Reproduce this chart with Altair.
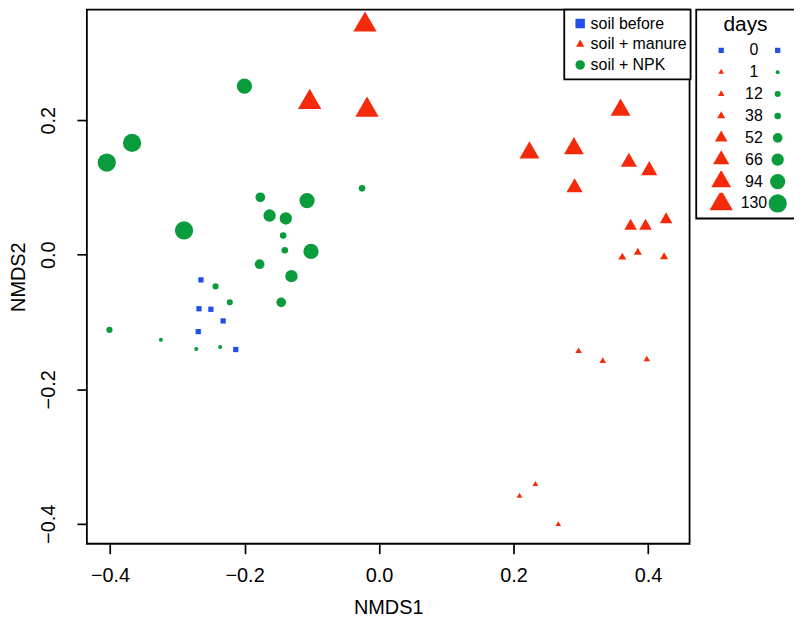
import altair as alt
import pandas as pd

# ---------------- data ----------------
days_levels = [0, 1, 12, 38, 52, 66, 94, 130]
treatments = ["soil before", "soil + manure", "soil + NPK"]

before_x = [-0.2649, -0.2678, -0.2501, -0.2319, -0.2689, -0.2131]
before_y = [-0.0373, -0.0802, -0.0810, -0.0983, -0.1142, -0.1408]
before_days = [0, 0, 0, 0, 0, 0]

manure_x = [-0.0209, -0.1032, -0.0179,
            0.3591, 0.2236, 0.2897,
            0.3715, 0.4017, 0.2907,
            0.3740, 0.3962, 0.4268,
            0.3617, 0.3848, 0.4238,
            0.2967, 0.3326, 0.3981,
            0.2325, 0.2088, 0.2665]
manure_y = [0.3419, 0.2269, 0.2153,
            0.2153, 0.1516, 0.1581,
            0.1380, 0.1254, 0.0998,
            0.0426, 0.0426, 0.0524,
            -0.0037, 0.0035, -0.0031,
            -0.1433, -0.1579, -0.1556,
            -0.3413, -0.3586, -0.4009]
manure_days = [130, 130, 130, 94, 94, 94, 66, 66, 66, 52, 52, 52,
               38, 38, 38, 12, 12, 12, 1, 1, 1]

npk_x = [-0.2900, -0.3673, -0.4049,
         -0.1071, -0.1012, -0.2002,
         -0.1628, -0.1387, -0.1303,
         -0.1766, -0.1776, -0.1455,
         -0.1426, -0.1402, -0.0253,
         -0.2431, -0.2220, -0.4009,
         -0.3245, -0.2718, -0.2363]
npk_y = [0.0362, 0.1664, 0.1372,
         0.0806, 0.0052, 0.2507,
         0.0584, 0.0540, -0.0318,
         0.0855, -0.0140, -0.0707,
         0.0288, 0.0067, 0.0988,
         -0.0470, -0.0707, -0.1117,
         -0.1264, -0.1402, -0.1372]
npk_days = [130, 130, 130, 94, 94, 94, 66, 66, 66, 52, 52, 52,
            38, 38, 38, 12, 12, 12, 1, 1, 1]

x_ticks = [-0.4, -0.2, 0.0, 0.2, 0.4]
y_ticks = [-0.4, -0.2, 0.0, 0.2]

# ---------------- tables ----------------
df_before = pd.DataFrame({"NMDS1": before_x, "NMDS2": before_y, "days": before_days,
                          "treatment": treatments[0]})
df_manure = pd.DataFrame({"NMDS1": manure_x, "NMDS2": manure_y, "days": manure_days,
                          "treatment": treatments[1]})
df_npk = pd.DataFrame({"NMDS1": npk_x, "NMDS2": npk_y, "days": npk_days,
                       "treatment": treatments[2]})
df_tri = pd.concat([df_before, df_manure], ignore_index=True)
df_all = pd.concat([df_before, df_manure, df_npk], ignore_index=True)

# ---------------- styling ----------------
FONT = "Liberation Sans"
BLUE, RED, GREEN = "#2050e8", "#f52a0a", "#0a9c3c"
TRI = "M0,-1L0.866,0.5L-0.866,0.5Z"   # triangle centred on its centroid

x_scale = alt.Scale(domain=[-0.4345, 0.4617], nice=False, zero=False)
y_scale = alt.Scale(domain=[-0.4296, 0.3645], nice=False, zero=False)

x_axis = alt.Axis(values=x_ticks, format=".1f", title="NMDS1", grid=False, domain=False,
                  tickSize=10, tickWidth=1.7, tickColor="black",
                  labelFont=FONT, labelFontSize=20, labelColor="black", labelPadding=12,
                  labelFlush=False, labelOverlap=False,
                  titleFont=FONT, titleFontSize=20, titleFontWeight="normal", titleColor="black",
                  titleX=303, titleY=70.3, titleAlign="center", titleBaseline="alphabetic")
y_axis = alt.Axis(values=y_ticks, format=".1f", title="NMDS2", grid=False, domain=False,
                  tickSize=10, tickWidth=1.7, tickColor="black",
                  labelFont=FONT, labelFontSize=20, labelColor="black",
                  labelAngle=270, labelAlign="center", labelBaseline="alphabetic",
                  labelPadding=22.3, labelFlush=False, labelOverlap=False,
                  titleFont=FONT, titleFontSize=20, titleFontWeight="normal", titleColor="black",
                  titleAngle=270, titleX=-62.8, titleY=268.5, titleAlign="center",
                  titleBaseline="alphabetic")

X = alt.X("NMDS1:Q", scale=x_scale, axis=x_axis)
Y = alt.Y("NMDS2:Q", scale=y_scale, axis=y_axis)

NB = "\u00a0"
ZW = "\u200b"
days_title = ZW + NB * 4 + "days" + NB * 4 + ZW
leg_common = dict(orient="none", padding=4,
                  labelFont=FONT, labelFontSize=16, labelColor="black",
                  clipHeight=21.7, rowPadding=0, symbolStrokeWidth=0, symbolOpacity=1)
leg_tri = alt.Legend(legendX=612.7, legendY=0, title=days_title,
                     titleFont=FONT, titleFontSize=21, titleFontWeight="normal", titleColor="black",
                     titleAnchor="start", titleAlign="left", titlePadding=5,
                     symbolOffset=7.1, labelAlign="center", labelOffset=18.9,
                     strokeColor="black", fillColor="white", **leg_common)
leg_circ = alt.Legend(legendX=681.1, legendY=26, title=None, labelExpr="''", **leg_common)
leg_treat = alt.Legend(orient="none", legendX=480, legendY=0, title=None, padding=4,
                       strokeColor="black", fillColor="white",
                       labelFont=FONT, labelFontSize=16, labelColor="black",
                       clipHeight=20, rowPadding=0.8, symbolSize=90, symbolOffset=4,
                       labelOffset=2.5, symbolStrokeWidth=0, symbolOpacity=1)

tri_layer = alt.Chart(df_tri).mark_point(filled=True, opacity=1, strokeWidth=0).encode(
    x=X, y=Y,
    shape=alt.Shape("days:O", scale=alt.Scale(domain=days_levels, range=["square"] + [TRI] * 7),
                    legend=leg_tri),
    color=alt.Color("days:O", scale=alt.Scale(domain=days_levels, range=[BLUE] + [RED] * 7),
                    legend=leg_tri),
    size=alt.Size("days:O", scale=alt.Scale(type="ordinal", domain=days_levels,
                                            range=[28, 44, 58, 87, 215, 353, 532, 733]),
                  legend=leg_tri),
)

circ_layer = alt.Chart(df_npk).mark_point(filled=True, opacity=1, strokeWidth=0).encode(
    x=X, y=Y,
    shape=alt.Shape("days:O", scale=alt.Scale(domain=days_levels, range=["square"] + ["circle"] * 7),
                    legend=leg_circ),
    color=alt.Color("days:O", scale=alt.Scale(domain=days_levels, range=[BLUE] + [GREEN] * 7),
                    legend=leg_circ),
    size=alt.Size("days:O", scale=alt.Scale(type="ordinal", domain=days_levels,
                                            range=[28, 16, 38, 44, 95, 154, 235, 336]),
                  legend=leg_circ),
)

key_layer = alt.Chart(df_all).mark_point(filled=True, opacity=0).encode(
    x=X, y=Y,
    shape=alt.Shape("treatment:N", scale=alt.Scale(domain=treatments, range=["square", TRI, "circle"]),
                    legend=leg_treat),
    color=alt.Color("treatment:N", scale=alt.Scale(domain=treatments, range=[BLUE, RED, GREEN]),
                    legend=leg_treat),
)

chart = alt.layer(tri_layer, circ_layer, key_layer).resolve_scale(
    color="independent", shape="independent", size="independent"
).properties(
    width=606, height=537,
    autosize=alt.AutoSizeParams(type="none"),
    padding={"left": 79.3, "top": 0, "right": 105, "bottom": 72},
    background="white",
).configure_view(stroke="black", strokeWidth=1.8).configure_legend(strokeWidth=1.8)

chart.save("out.html", embed_options={"renderer": "svg", "actions": False})
